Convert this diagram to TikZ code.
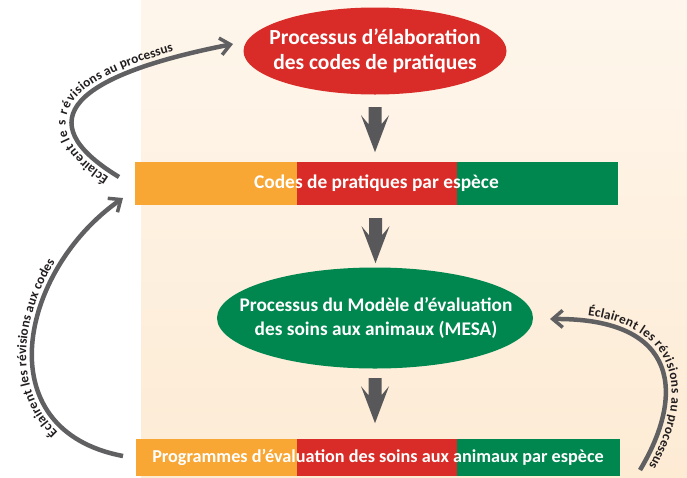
\documentclass[tikz,border=0pt]{standalone}
\usepackage{fontspec}
\setmainfont{Carlito}
\usetikzlibrary{shapes.geometric,arrows.meta,decorations.text,calc}
\definecolor{cOrange}{HTML}{F8A634}
\definecolor{cRed}{HTML}{D92B27}
\definecolor{cGreen}{HTML}{00874F}
\definecolor{cGray}{HTML}{58585A}
\definecolor{cCurve}{HTML}{606062}
\definecolor{bgTop}{HTML}{FEF6EC}
\definecolor{bgBot}{HTML}{FDEBD4}
\definecolor{cInk}{HTML}{231F20}
\begin{document}
\begin{tikzpicture}[x=1pt,y=-1pt,
  oval/.style={ellipse, inner sep=0pt},
  ovaltext/.style={inner sep=0pt, text=white, align=center},
  bartext/.style={inner sep=0pt, text=white},
  loopline/.style={draw=cCurve, line width=4.5pt,
    -{Straight Barb[length=10pt,width=17pt,line width=3.5pt]}},
  looptext/.style={decorate, decoration={text along path, raise=6pt,
    text={|\color{cInk}\bfseries\fontsize{13.3}{15}\selectfont|#1}}},
  blockdown/.pic={\fill[cGray] (-6.5,0) -- (6.5,0) -- (6.5,17) -- (14,8)
    -- (0,45) -- (-14,8) -- (-6.5,17) -- cycle;}
]
\useasboundingbox (0,0) rectangle (687,477);
\fill[white] (0,0) rectangle (687,477);
\shade[top color=bgTop, bottom color=bgBot] (141,0) rectangle (687,477);

% top ellipse
\node[oval, fill=cRed, minimum width=263pt, minimum height=87pt] (proc) at (375,51) {};
\node[ovaltext, font=\bfseries\fontsize{21.5}{25}\selectfont] (proctext) at (proc.center)
  {Processus d’élaboration\\des codes de pratiques};

% bar 1
\fill[cOrange] (135,162) rectangle (297,205);
\fill[cRed] (297,162) rectangle (457,205);
\fill[cGreen] (457,162) rectangle (618,205);
\node[bartext, minimum width=483pt, minimum height=43pt,
  font=\bfseries\fontsize{19.4}{22}\selectfont] (codes) at (376.5,183.5)
  {Codes de pratiques par espèce};

% MESA ellipse
\node[oval, fill=cGreen, minimum width=316pt, minimum height=101pt] (mesa) at (375,318) {};
\node[ovaltext, font=\bfseries\fontsize{19.3}{24}\selectfont] (mesatext) at ($(mesa.center)+(1,0)$)
  {Processus du Modèle d’évaluation\\des soins aux animaux (MESA)};

% bar 2
\fill[cOrange] (136,439) rectangle (297,476);
\fill[cRed] (297,439) rectangle (457,476);
\fill[cGreen] (457,439) rectangle (620,476);
\node[bartext, minimum width=484pt, minimum height=37pt,
  font=\bfseries\fontsize{18.2}{21}\selectfont] (prog) at (378,457.5)
  {Programmes d’évaluation des soins aux animaux par espèce};

% block arrows
\pic at ($(proc.south)+(0,12.5)$) {blockdown};
\pic at ($(codes.south)+(-1,13)$) {blockdown};
\pic at ($(mesa.south)+(0,9.5)$) {blockdown};

% curved arrows
\coordinate (s1) at (119,177);
\coordinate (t1) at (233,44);
\coordinate (s2) at (123,456);
\coordinate (t2) at (123,198);
\coordinate (s3) at (640,470);
\coordinate (t3) at (550,319);

\draw[loopline] (s1) .. controls (25,120) and (75,75) .. (t1);
\path[looptext={Éclairent le s révisions au processus},
  decoration={text align={left indent=8pt}}]
  (s1) .. controls (25,120) and (75,75) .. (t1);

\draw[loopline] (s2) .. controls (-15,430) and (20,270) .. (t2);
\path[looptext={Éclairent les révisions aux codes},
  decoration={text align={left indent=68pt}}]
  (s2) .. controls (-15,430) and (20,270) .. (t2);

\draw[loopline] (s3) .. controls (685,395) and (680,318) .. (t3);
\path[looptext={Éclairent les révisions au processus},
  decoration={text align={left indent=37pt}}]
  (t3) .. controls (680,318) and (685,395) .. (s3) -- ++(-6,10);
\end{tikzpicture}
\end{document}
